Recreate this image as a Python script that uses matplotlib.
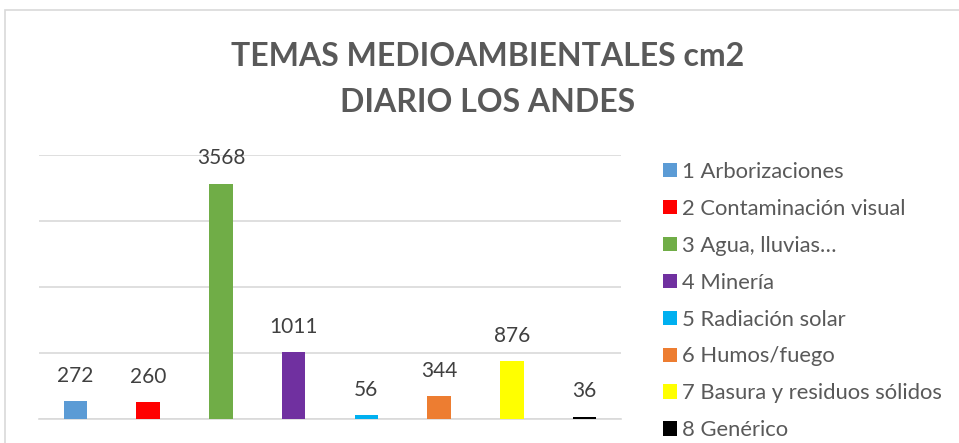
import matplotlib.pyplot as plt
from matplotlib.patches import Rectangle, Patch

# data
temas = ["1 Arborizaciones", "2 Contaminación visual", "3 Agua, lluvias…",
         "4 Minería", "5 Radiación solar", "6 Humos/fuego",
         "7 Basura y residuos sólidos", "8 Genérico"]
cm2 = [272, 260, 3568, 1011, 56, 344, 876, 36]
colores = ["#5B9BD5", "#FF0000", "#70AD47", "#7030A0",
           "#00B0F0", "#ED7D31", "#FFFF00", "#000000"]

plt.rcParams['font.family'] = ['Lato', 'DejaVu Sans']

fig = plt.figure(figsize=(9.59, 4.43), dpi=100)
W, H = 959, 443

# chart border (light gray, cut off at right/bottom like the screenshot)
fig.patches.append(Rectangle((5 / W, -0.1), 1.2, (H - 10) / H + 0.1,
                             transform=fig.transFigure, fill=False,
                             edgecolor="#d9d9d9", linewidth=1.2))

ax = fig.add_axes([39 / W, 24 / H, 582 / W, 264 / H])
x = range(len(cm2))
bars = ax.bar(x, cm2, width=0.32, color=colores, zorder=3)

for xi, v in zip(x, cm2):
    ax.annotate(str(v), (xi, v), xytext=(0, 11), textcoords="offset points",
                ha="center", va="bottom", fontsize=15, color="#404040")

ax.set_xlim(-0.5, len(cm2) - 0.5)
ax.set_ylim(0, 4000)
ax.set_yticks([0, 1000, 2000, 3000, 4000])
ax.yaxis.grid(True, color="#d9d9d9", linewidth=1.2, zorder=0)
ax.tick_params(left=False, bottom=False, labelleft=False, labelbottom=False)
for s in ["top", "right", "left"]:
    ax.spines[s].set_visible(False)
ax.spines["bottom"].set_color("#d9d9d9")
ax.spines["bottom"].set_linewidth(1.2)

fig.text(488 / W, 1 - 57 / H, "TEMAS MEDIOAMBIENTALES cm2", ha="center",
         va="center", fontsize=23, fontweight="bold", color="#595959")
fig.text(488 / W, 1 - 103 / H, "DIARIO LOS ANDES", ha="center",
         va="center", fontsize=23, fontweight="bold", color="#595959")

handles = [Patch(facecolor=c, edgecolor="none") for c in colores]
fig.legend(handles, temas, loc="upper left", bbox_to_anchor=(663 / W, 1 - 162 / H),
           frameon=False, fontsize=15.8, labelcolor="#595959", handlelength=0.63,
           handleheight=0.63, handletextpad=0.25, labelspacing=0.77,
           borderaxespad=0, borderpad=0)

fig.savefig("out.png", dpi=100)
